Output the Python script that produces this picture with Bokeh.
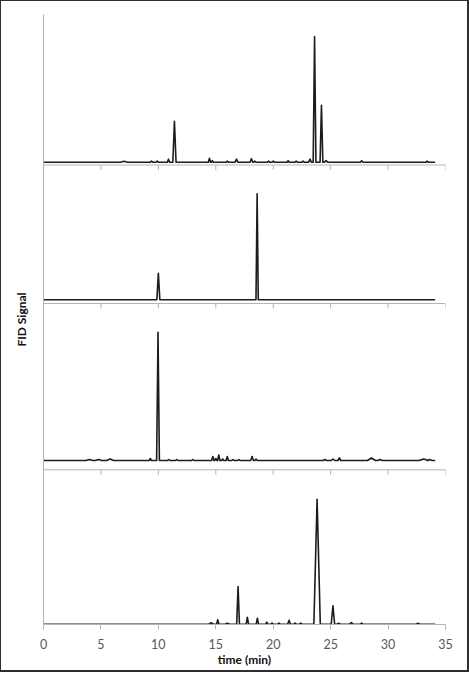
from bokeh.plotting import figure
from bokeh.models import Range1d, Span, FixedTicker
from bokeh.embed import file_html
from bokeh.resources import INLINE

# ---------------- data ----------------
tick_labels = [0, 5, 10, 15, 20, 25, 30, 35]
run_end = 34.1  # minutes, end of each trace

# panel 1 (top)
p1_times   = [7.0, 9.4, 9.9, 10.88, 11.4, 14.45, 14.7, 16.0, 16.8, 18.1, 18.4, 19.6, 20.0, 21.3, 22.0, 22.6, 23.2, 23.6, 24.2, 24.6, 27.7, 33.4]
p1_heights = [1.0, 1.0, 1.0, 3.0, 41.0, 4.0, 1.5, 1.0, 3.0, 3.5, 1.0, 1.0, 1.0, 1.5, 1.0, 1.0, 3.0, 125.7, 57.0, 1.5, 1.5, 1.0]
p1_widths  = [0.3, 0.1, 0.1, 0.1, 0.14, 0.1, 0.1, 0.1, 0.12, 0.12, 0.1, 0.1, 0.1, 0.1, 0.1, 0.1, 0.12, 0.12, 0.12, 0.15, 0.12, 0.1]

# panel 2
p2_times   = [10.0, 18.6]
p2_heights = [26.6, 106.0]
p2_widths  = [0.13, 0.1]

# panel 3
p3_times   = [4.0, 4.8, 5.8, 9.3, 9.97, 10.9, 11.6, 13.0, 14.74, 15.0, 15.26, 15.6, 16.0, 16.5, 17.0, 18.16, 18.5, 24.5, 25.2, 25.76, 28.55, 29.3, 33.1, 33.6]
p3_heights = [1.0, 1.0, 1.5, 2.0, 128.3, 1.0, 1.0, 1.0, 4.0, 2.0, 5.5, 1.5, 4.0, 1.0, 1.0, 4.0, 1.5, 1.0, 1.5, 2.5, 2.5, 1.0, 1.5, 1.0]
p3_widths  = [0.3, 0.3, 0.3, 0.1, 0.12, 0.1, 0.1, 0.1, 0.1, 0.1, 0.1, 0.1, 0.1, 0.1, 0.1, 0.12, 0.1, 0.15, 0.15, 0.12, 0.35, 0.2, 0.4, 0.2]

# panel 4 (bottom)
p4_times   = [14.6, 15.17, 16.0, 16.94, 17.75, 18.62, 19.44, 19.9, 20.5, 21.38, 21.9, 22.4, 23.82, 25.2, 25.7, 26.8, 27.7, 32.6]
p4_heights = [1.5, 4.5, 1.0, 37.6, 7.0, 6.0, 2.0, 1.0, 1.0, 4.0, 1.0, 1.0, 125.0, 18.3, 1.0, 1.5, 1.0, 1.0]
p4_widths  = [0.2, 0.1, 0.2, 0.12, 0.1, 0.1, 0.1, 0.1, 0.1, 0.12, 0.1, 0.1, 0.28, 0.15, 0.15, 0.15, 0.1, 0.15]

# ---------------- layout (stacking) ----------------
panel_baselines = [462.3, 324.7, 164.0, 0.3]   # vertical offset of each trace
panel_axes = [459.5, 321.0, 154.7]            # separator axes of upper panels
tick_len = 5

AXIS_COLOR = "#b5b5b5"
LINE_COLOR = "#1c1c1c"
FONT = "Lato"


def peak_vertices(times, heights, widths, end, base):
    xs, ys = [0.0], [base]
    for t, h, w in sorted(zip(times, heights, widths)):
        xs += [t - w, t, t + w]
        ys += [base, base + h, base]
    xs.append(end)
    ys.append(base)
    return xs, ys


p = figure(
    width=468, height=671,
    x_range=Range1d(0, 35), y_range=Range1d(0, 610),
    output_backend="svg", toolbar_location=None,
    min_border_left=43, min_border_right=23,
    min_border_top=14, min_border_bottom=47,
    background_fill_alpha=0, border_fill_alpha=0,
)
p.styles = {"outline": "2px solid #2e2e2e", "outline-offset": "-1px"}
p.outline_line_color = None
p.grid.visible = False

# x axis (bottom panel)
p.xaxis.ticker = FixedTicker(ticks=tick_labels)
p.xaxis.axis_line_color = AXIS_COLOR
p.xaxis.major_tick_line_color = AXIS_COLOR
p.xaxis.major_tick_in = 0
p.xaxis.major_tick_out = tick_len
p.xaxis.minor_tick_line_color = None
p.xaxis.major_label_text_font = FONT
p.xaxis.major_label_text_font_size = "12.5px"
p.xaxis.major_label_text_color = "#595959"
p.xaxis.major_label_standoff = 9
p.xaxis.axis_label = "time (min)"
p.xaxis.axis_label_text_font = FONT
p.xaxis.axis_label_text_font_size = "12px"
p.xaxis.axis_label_text_font_style = "bold"
p.xaxis.axis_label_text_color = "#111111"
p.xaxis.axis_label_standoff = 0

# y axis: line only, with the signal label
p.yaxis.ticker = FixedTicker(ticks=[])
p.yaxis.axis_line_color = AXIS_COLOR
p.yaxis.major_tick_line_color = None
p.yaxis.minor_tick_line_color = None
p.yaxis.major_label_text_font_size = "0px"
p.yaxis.axis_label = "FID Signal"
p.yaxis.axis_label_text_font = FONT
p.yaxis.axis_label_text_font_size = "12px"
p.yaxis.axis_label_text_font_style = "bold"
p.yaxis.axis_label_text_color = "#111111"
p.yaxis.axis_label_standoff = 15

# separator axes for the upper panels
for ay in panel_axes:
    p.add_layout(Span(location=ay, dimension="width", line_color=AXIS_COLOR, line_width=1))
    p.segment(x0=tick_labels, y0=[ay] * len(tick_labels),
              x1=tick_labels, y1=[ay - tick_len] * len(tick_labels),
              line_color=AXIS_COLOR, line_width=1)

panels = [
    (p1_times, p1_heights, p1_widths),
    (p2_times, p2_heights, p2_widths),
    (p3_times, p3_heights, p3_widths),
    (p4_times, p4_heights, p4_widths),
]
for (tt, hh, ww), base in zip(panels, panel_baselines):
    xs, ys = peak_vertices(tt, hh, ww, run_end, base)
    p.line(xs, ys, line_color=LINE_COLOR, line_width=1.6, line_join="round")

open("out.html", "w").write(file_html(p, INLINE))
